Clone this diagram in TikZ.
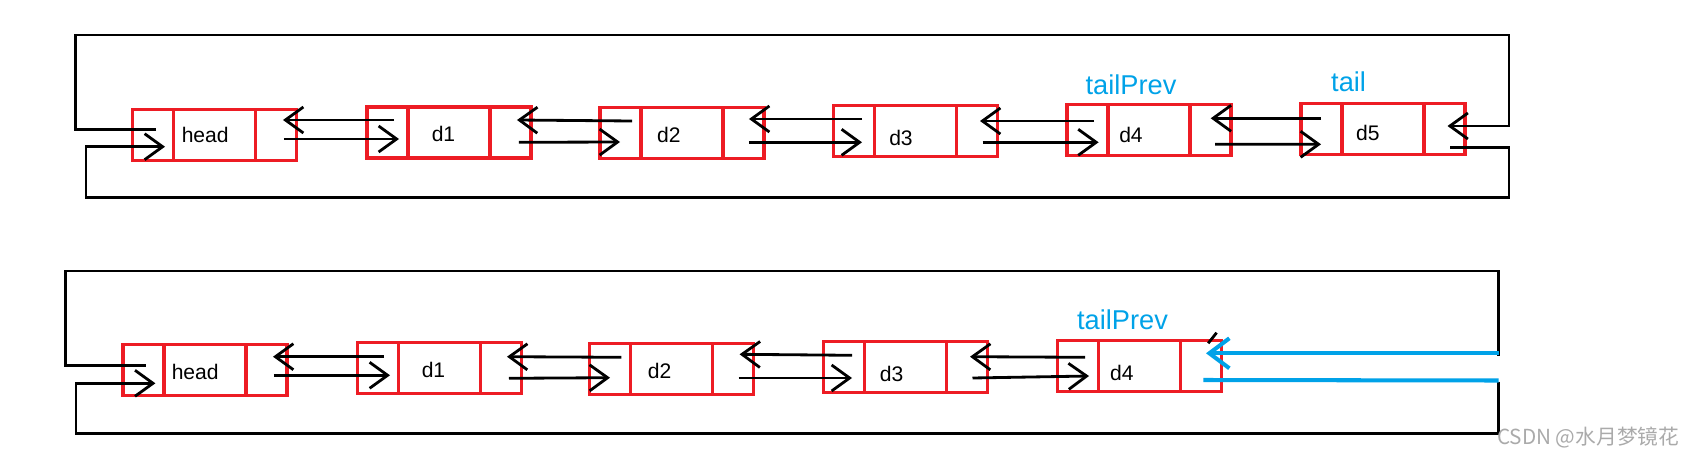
\documentclass[tikz,border=0pt]{standalone}
\usepackage{fontspec}
\setmainfont{Liberation Sans}
\newfontfamily\cjkfont{Noto Sans CJK SC}
\usetikzlibrary{arrows.meta,positioning,calc}
\definecolor{boxred}{RGB}{237,28,36}
\definecolor{tagblue}{RGB}{0,162,232}
\definecolor{markgray}{RGB}{170,170,170}
\tikzset{
	cell/.style={draw=boxred, line width=1.75pt, minimum height=1.02cm, inner sep=0pt, outer sep=0pt},
	ptr/.style={cell, minimum width=0.82cm},
	val/.style={cell, minimum width=1.64cm},
	txt/.style={anchor=west, inner sep=0pt, font=\fontsize{12}{14}\selectfont},
	tag/.style={inner sep=0pt, text=tagblue, font=\fontsize{15.5}{18}\selectfont},
	link/.style={line width=1.6pt},
	arr/.style={link, -{Straight Barb[length=0.36cm, width=0.52cm]}},
	blue link/.style={draw=tagblue, line width=2.3pt},
}
\begin{document}
\begin{tikzpicture}[x=0.02cm, y=-0.02cm]
	\useasboundingbox (0,0) rectangle (1683,456);
	% upper list: head d1 d2 d3 d4 d5
	\node[val] (a-head) at (214.8,134.7) {};
	\node[ptr, left=0pt of a-head] (a-head-prev) {};
	\node[ptr, right=0pt of a-head] (a-head-next) {};
	\node[val] (a-d1) at (449,132.5) {};
	\node[ptr, left=0pt of a-d1] (a-d1-prev) {};
	\node[ptr, right=0pt of a-d1] (a-d1-next) {};
	\node[val] (a-d2) at (682,133.3) {};
	\node[ptr, left=0pt of a-d2] (a-d2-prev) {};
	\node[ptr, right=0pt of a-d2] (a-d2-next) {};
	\node[val] (a-d3) at (915.5,131.3) {};
	\node[ptr, left=0pt of a-d3] (a-d3-prev) {};
	\node[ptr, right=0pt of a-d3] (a-d3-next) {};
	\node[val] (a-d4) at (1149,130.3) {};
	\node[ptr, left=0pt of a-d4] (a-d4-prev) {};
	\node[ptr, right=0pt of a-d4] (a-d4-next) {};
	\node[val] (a-d5) at (1383,128.7) {};
	\node[ptr, left=0pt of a-d5] (a-d5-prev) {};
	\node[ptr, right=0pt of a-d5] (a-d5-next) {};
	\node[txt] (a-head-lbl) at (181.4,135) {head};
	\node[txt] (a-d1-lbl) at (431.4,134.3) {d1};
	\node[txt] (a-d2-lbl) at (656.8,135) {d2};
	\node[txt] (a-d3-lbl) at (888.9,138.3) {d3};
	\node[txt] (a-d4-lbl) at (1118.9,135) {d4};
	\node[txt] (a-d5-lbl) at (1355.7,133.3) {d5};
	\node[tag] (a-tailprev) at (1131,85) {tailPrev};
	\node[tag] (a-tail) at (1348.6,81.7) {tail};
	\draw[arr] ($(a-d1-prev)+(6.5,-12.5)$) -- ($(a-head-next)+(6.7,-14.7)$);
	\draw[arr] ($(a-head-next)+(7.7,4.3)$) -- ($(a-d1-prev)+(11.5,6.5)$);
	\draw[arr] ($(a-d2-prev)+(11.5,-12.3)$) -- ($(a-d1-next)+(6.5,-12.5)$);
	\draw[arr] ($(a-d1-next)+(8.5,9.8)$) -- ($(a-d2-prev)+(-0.5,8.7)$);
	\draw[arr] ($(a-d3-prev)+(8,-12.3)$) -- ($(a-d2-next)+(5.5,-14.3)$);
	\draw[arr] ($(a-d2-next)+(5.5,9)$) -- ($(a-d3-prev)+(8,11)$);
	\draw[arr] ($(a-d4-prev)+(6.5,-9.3)$) -- ($(a-d3-next)+(3,-10.3)$);
	\draw[arr] ($(a-d3-next)+(5.5,11)$) -- ($(a-d4-prev)+(11.1,12)$);
	\draw[arr] ($(a-d5-prev)+(-0.5,-10.4)$) -- ($(a-d4-next)+(0.2,-12)$);
	\draw[arr] ($(a-d4-next)+(4.5,14)$) -- ($(a-d5-prev)+(-0.5,15.6)$);
	% round trip of the upper list
	\coordinate (a-nw) at (75.7,35);
	\coordinate (a-ne) at (1509,35);
	\coordinate (a-sw) at (86,197.5);
	\coordinate (a-se) at (1509,197.5);
	\draw[arr] ($(a-head-prev)+(2.7,-5.4)$) -| (a-nw) -- (a-ne) |- ($(a-d5-next)+(3,-2.7)$);
	\draw[arr] ($(a-d5-next)+(5.5,18.6)$) -| (a-se) -- (a-sw) |- ($(a-head-prev)+(11.7,12)$);

	% lower list: head d1 d2 d3 d4
	\node[val] (b-head) at (205,370) {};
	\node[ptr, left=0pt of b-head] (b-head-prev) {};
	\node[ptr, right=0pt of b-head] (b-head-next) {};
	\node[val] (b-d1) at (439.5,368.3) {};
	\node[ptr, left=0pt of b-d1] (b-d1-prev) {};
	\node[ptr, right=0pt of b-d1] (b-d1-next) {};
	\node[val] (b-d2) at (671.3,369.3) {};
	\node[ptr, left=0pt of b-d2] (b-d2-prev) {};
	\node[ptr, right=0pt of b-d2] (b-d2-next) {};
	\node[val] (b-d3) at (905.2,367.3) {};
	\node[ptr, left=0pt of b-d3] (b-d3-prev) {};
	\node[ptr, right=0pt of b-d3] (b-d3-next) {};
	\node[val] (b-d4) at (1139.7,366.3) {};
	\node[ptr, left=0pt of b-d4] (b-d4-prev) {};
	\node[ptr, right=0pt of b-d4] (b-d4-next) {};
	\node[txt] (b-head-lbl) at (171.4,371.7) {head};
	\node[txt] (b-d1-lbl) at (421.4,370) {d1};
	\node[txt] (b-d2-lbl) at (647.5,370.7) {d2};
	\node[txt] (b-d3-lbl) at (879.6,374) {d3};
	\node[txt] (b-d4-lbl) at (1109.7,372.7) {d4};
	\node[tag] (b-tailprev) at (1122.5,320) {tailPrev};
	\draw[arr] ($(b-d1-prev)+(6,-11.6)$) -- ($(b-head-next)+(6.5,-13.3)$);
	\draw[arr] ($(b-head-next)+(7.5,5.3)$) -- ($(b-d1-prev)+(12,7)$);
	\draw[arr] ($(b-d2-prev)+(11.6,-12)$) -- ($(b-d1-next)+(6,-11.6)$);
	\draw[arr] ($(b-d1-next)+(8,10)$) -- ($(b-d2-prev)+(0.2,8.4)$);
	\draw[arr] ($(b-d3-prev)+(8.3,-12)$) -- ($(b-d2-next)+(6.8,-15)$);
	\draw[arr] ($(b-d2-next)+(5.8,8.7)$) -- ($(b-d3-prev)+(8.3,10.7)$);
	\draw[arr] ($(b-d4-prev)+(6.8,-9)$) -- ($(b-d3-next)+(3.3,-10.6)$);
	\draw[arr] ($(b-d3-next)+(5.8,10.7)$) -- ($(b-d4-prev)+(10.8,9.7)$);
	% round trip of the lower list, cut at the right
	\coordinate (b-nw) at (65.7,271);
	\coordinate (b-ne) at (1498.5,271);
	\coordinate (b-sw) at (76,433.5);
	\coordinate (b-se) at (1498.5,433.5);
	\coordinate (b-cut1) at (1498.5,356);
	\coordinate (b-cut2) at (1498.5,381.7);
	\draw[link] ($(b-head-prev)+(2.2,-4.7)$) -| (b-nw) -- (b-ne) -- (b-cut1);
	\draw[arr] (b-cut2) -- (b-se) -- (b-sw) |- ($(b-head-prev)+(11.9,13.3)$);
	\draw[link] ($(b-d4-next)+(7,-23)$) -- ++(8.4,-10.6);
	% new links to tailPrev
	\coordinate (b-blue1) at (1498.5,353.3);
	\coordinate (b-blue2) at (1498.5,380.5);
	\draw[blue link, -{Straight Barb[length=0.4cm, width=0.6cm]}] (b-blue1) -- ($(b-d4-next)+(4.8,-13)$);
	\draw[blue link] ($(b-d4-next)+(2.1,13.7)$) -- (b-blue2);

	\node[anchor=west, inner sep=0pt, text=markgray, font=\cjkfont\fontsize{11.8}{14}\selectfont] (mark) at (1496.7,438) {CSDN @水月梦镜花};
\end{tikzpicture}
\end{document}
